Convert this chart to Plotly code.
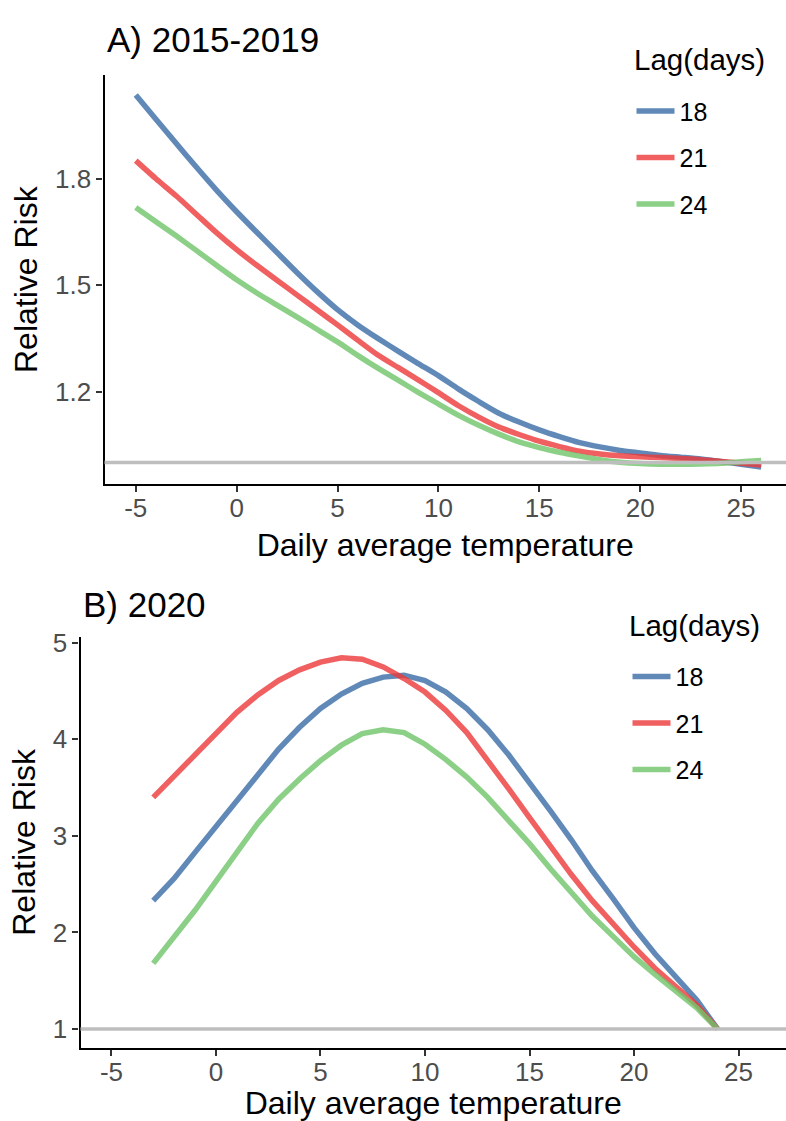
import plotly.graph_objects as go

# ---------------- data ----------------
lags = ["18", "21", "24"]
legend_title = "Lag(days)"

temp_a = list(range(-5, 27))
rr_a_18 = [2.036, 1.968, 1.900, 1.833, 1.768, 1.707, 1.649, 1.592, 1.535, 1.481,
           1.431, 1.388, 1.350, 1.314, 1.279, 1.245, 1.207, 1.172, 1.139, 1.114,
           1.092, 1.073, 1.056, 1.044, 1.034, 1.027, 1.020, 1.015, 1.010, 1.003,
           0.995, 0.987]
rr_a_21 = [1.851, 1.800, 1.752, 1.700, 1.648, 1.600, 1.556, 1.514, 1.472, 1.430,
           1.388, 1.345, 1.303, 1.268, 1.233, 1.197, 1.160, 1.128, 1.100, 1.079,
           1.060, 1.045, 1.032, 1.024, 1.019, 1.016, 1.014, 1.011, 1.008, 1.003,
           0.998, 0.993]
rr_a_24 = [1.719, 1.679, 1.639, 1.598, 1.556, 1.515, 1.478, 1.444, 1.410, 1.375,
           1.340, 1.302, 1.266, 1.232, 1.198, 1.165, 1.133, 1.105, 1.080, 1.058,
           1.042, 1.029, 1.018, 1.008, 1.001, 0.997, 0.995, 0.995, 0.996, 0.998,
           1.002, 1.006]

temp_b = list(range(-3, 25))
rr_b_18 = [2.33, 2.56, 2.83, 3.10, 3.37, 3.635, 3.90, 4.125, 4.32, 4.47,
           4.58, 4.645, 4.665, 4.61, 4.49, 4.32, 4.10, 3.84, 3.56, 3.26,
           2.96, 2.64, 2.35, 2.05, 1.78, 1.54, 1.30, 1.00]
rr_b_21 = [3.40, 3.62, 3.855, 4.07, 4.28, 4.46, 4.61, 4.72, 4.80, 4.845,
           4.83, 4.75, 4.63, 4.49, 4.30, 4.07, 3.79, 3.49, 3.19, 2.89,
           2.60, 2.33, 2.08, 1.85, 1.63, 1.44, 1.25, 1.00]
rr_b_24 = [1.68, 1.95, 2.23, 2.53, 2.84, 3.13, 3.38, 3.59, 3.78, 3.94,
           4.06, 4.10, 4.07, 3.95, 3.79, 3.61, 3.40, 3.17, 2.92, 2.66,
           2.41, 2.17, 1.96, 1.75, 1.565, 1.40, 1.22, 1.00]

x_ticks = [-5, 0, 5, 10, 15, 20, 25]
x_ticktext = ["-5", "0", "5", "10", "15", "20", "25"]
y_ticks_a = [1.2, 1.5, 1.8]
y_ticktext_a = ["1.2", "1.5", "1.8"]
y_ticks_b = [1, 2, 3, 4, 5]
ref_rr = 1

# ---------------- style ----------------
colors = ["rgba(58,108,166,0.8)", "rgba(236,56,56,0.8)", "rgba(111,196,106,0.8)"]
FONT = "Liberation Sans, Arial, sans-serif"
W, H = 786, 1121
LW = 5.5

fig = go.Figure()

for lag, ys, c in zip(lags, [rr_a_18, rr_a_21, rr_a_24], colors):
    fig.add_trace(go.Scatter(x=temp_a, y=ys, mode="lines", name=lag,
                             line=dict(color=c, width=LW, shape="spline", smoothing=0.6),
                             xaxis="x", yaxis="y", legend="legend",
                             legendgroup="a" + lag))
for lag, ys, c in zip(lags, [rr_b_18, rr_b_21, rr_b_24], colors):
    fig.add_trace(go.Scatter(x=temp_b, y=ys, mode="lines", name=lag,
                             line=dict(color=c, width=LW),
                             xaxis="x2", yaxis="y2", legend="legend2",
                             legendgroup="b" + lag))

axis_common = dict(showgrid=False, zeroline=False, showline=True,
                   linecolor="black", linewidth=2.2, ticks="outside",
                   ticklen=6, tickwidth=2, tickcolor="#333333",
                   tickfont=dict(family=FONT, size=26, color="#4D4D4D"))
x_common = dict(ticklabelstandoff=-6, **axis_common)
title_font = dict(family=FONT, size=32, color="black")

fig.update_layout(
    width=W, height=H,
    margin=dict(l=0, r=0, t=0, b=0),
    paper_bgcolor="white", plot_bgcolor="white",
    font=dict(family=FONT, color="black"),
    xaxis=dict(domain=[104.5 / W, 1], range=[-6.55, 27.23], anchor="y",
               tickvals=x_ticks, ticktext=x_ticktext,
               title=dict(text="Daily average temperature", font=title_font, standoff=11),
               **x_common),
    yaxis=dict(domain=[1 - 479 / H, 1 - 66.7 / H], range=[0.939, 2.092],
               anchor="x", tickvals=y_ticks_a, ticktext=y_ticktext_a,
               title=dict(text="Relative Risk", font=title_font, standoff=8),
               **axis_common),
    xaxis2=dict(domain=[80.5 / W, 1], range=[-6.48, 27.27], anchor="y2",
                tickvals=x_ticks, ticktext=x_ticktext,
                title=dict(text="Daily average temperature", font=title_font, standoff=9),
                **x_common),
    yaxis2=dict(domain=[1 - 1047 / H, 1 - 633.3 / H], range=[0.808, 5.058],
                anchor="x2", tickvals=y_ticks_b,
                title=dict(text="Relative Risk", font=title_font, standoff=8),
                **axis_common),
    legend=dict(x=631.5 / W, y=1 - 80 / H, xanchor="left", yanchor="top",
                font=dict(family=FONT, size=25, color="black"),
                bgcolor="rgba(0,0,0,0)", traceorder="grouped",
                tracegroupgap=11, itemwidth=38),
    legend2=dict(x=627.5 / W, y=1 - 650 / H, xanchor="left", yanchor="top",
                 font=dict(family=FONT, size=25, color="black"),
                 bgcolor="rgba(0,0,0,0)", traceorder="grouped",
                 tracegroupgap=11, itemwidth=38),
    shapes=[
        dict(type="line", xref="x domain", yref="y", x0=0, x1=1, y0=ref_rr, y1=ref_rr,
             line=dict(color="#BEBEBE", width=3.5), layer="above"),
        dict(type="line", xref="x2 domain", yref="y2", x0=0, x1=1, y0=ref_rr, y1=ref_rr,
             line=dict(color="#BEBEBE", width=3.5), layer="above"),
    ],
    annotations=[
        dict(text="A) 2015-2019", xref="paper", yref="paper", x=105 / W, y=1 - 31 / H,
             xanchor="left", yanchor="middle", showarrow=False,
             font=dict(family=FONT, size=35, color="black")),
        dict(text="B) 2020", xref="paper", yref="paper", x=80.5 / W, y=1 - 600 / H,
             xanchor="left", yanchor="middle", showarrow=False,
             font=dict(family=FONT, size=35, color="black")),
        dict(text=legend_title, xref="paper", yref="paper", x=632 / W, y=1 - 51 / H,
             xanchor="left", yanchor="middle", showarrow=False,
             font=dict(family=FONT, size=29.5, color="black")),
        dict(text=legend_title, xref="paper", yref="paper", x=626.5 / W, y=1 - 621 / H,
             xanchor="left", yanchor="middle", showarrow=False,
             font=dict(family=FONT, size=29.5, color="black")),
    ],
)

fig.write_html("out.html",
               config={"displayModeBar": False},
               post_script="document.body.style.margin='0';document.body.style.padding='0';")
